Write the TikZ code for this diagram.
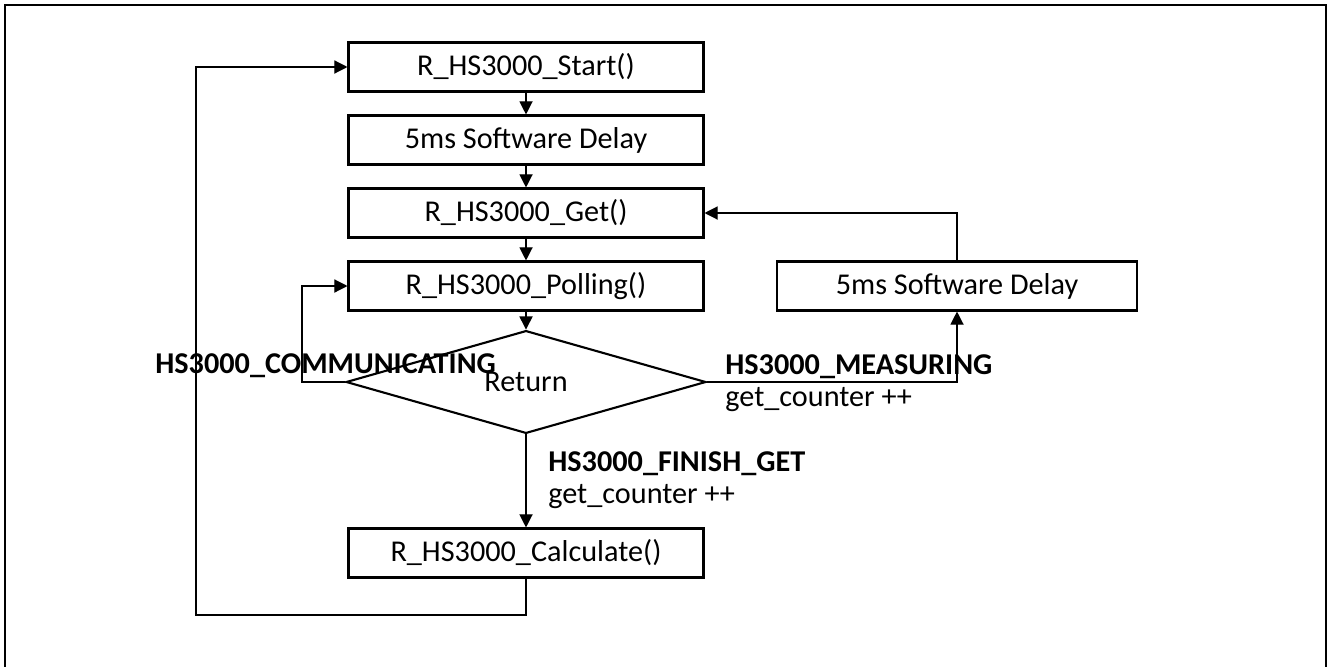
\documentclass[tikz,border=0pt]{standalone}
\usepackage{fontspec}
\setmainfont{Carlito}
\usetikzlibrary{shapes.geometric,arrows.meta}

\newcommand{\flowfont}{\fontsize{17.2}{20}\selectfont}

\begin{document}
\begin{tikzpicture}[x=0.02cm, y=-0.02cm,
    every node/.style={font=\flowfont},
    proc/.style={draw, line width=1.2pt, minimum width=7.1cm, minimum height=0.98cm, inner sep=0pt},
    flow/.style={-{Triangle[width=7.5pt,length=7.5pt]}, line width=0.7pt},
    lbl/.style={anchor=base west, inner sep=0pt}]
    \useasboundingbox (0,0) rectangle (1328,666);
    \draw[line width=1.2pt] (5,670) -- (5,5) -- (1326,5) -- (1326,670);

    \node[proc] (start) at (526,67) {R\_HS3000\_Start()};
    \node[proc] (delay) at (526,140) {5ms Software Delay};
    \node[proc] (get) at (526,213) {R\_HS3000\_Get()};
    \node[proc] (poll) at (526,286) {R\_HS3000\_Polling()};
    \node[draw, diamond, line width=1.2pt, minimum width=7.2cm, minimum height=1.92cm, inner sep=0pt] (ret) at (526,382) {Return};
    \node[proc, minimum width=7.2cm] (wait) at (957,286) {5ms Software Delay};
    \node[proc] (calc) at (526,553) {R\_HS3000\_Calculate()};

    \coordinate (loop) at (302,382);
    \coordinate (back) at (196,615);

    \draw[flow] (start) -- (delay);
    \draw[flow] (delay) -- (get);
    \draw[flow] (get) -- (poll);
    \draw[flow] (poll) -- (ret);
    \draw[flow] (ret) -- (calc);
    \draw[flow] (ret.west) -- (loop) |- (poll.west);
    \draw[flow] (ret.east) -| (wait.south);
    \draw[flow] (wait.north) |- (get.east);
    \draw[flow] (calc.south) |- (back) |- (start.west);

    \node[lbl, font=\flowfont\bfseries] (comm) at (155,373) {HS3000\_COMMUNICATING};
    \node[lbl, font=\flowfont\bfseries] (meas) at (725,374) {HS3000\_MEASURING};
    \node[lbl] (measc) at (725,406) {get\_counter ++};
    \node[lbl, font=\flowfont\bfseries] (fin) at (548,471) {HS3000\_FINISH\_GET};
    \node[lbl] (finc) at (548,503) {get\_counter ++};
\end{tikzpicture}
\end{document}
